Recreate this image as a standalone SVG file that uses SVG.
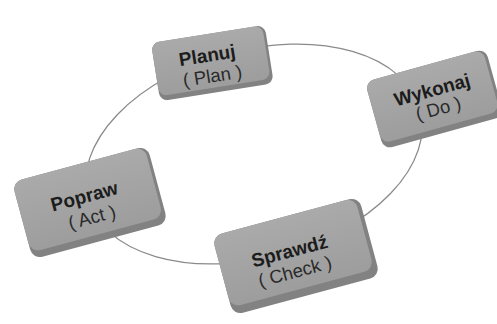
<svg xmlns="http://www.w3.org/2000/svg" width="497" height="324" viewBox="0 0 497 324">
<defs>
<linearGradient id="faceg" x1="0" y1="0" x2="0" y2="1">
<stop offset="0" stop-color="#aaaaaa"/>
<stop offset="1" stop-color="#9d9d9d"/>
</linearGradient>
</defs>
<style>
.body{fill:#828282;}
.face{fill:url(#faceg);}
.t1{font-family:"Liberation Sans",Arial,sans-serif;font-weight:700;font-size:19px;fill:#1c1c1c;text-anchor:middle;}
.t2{font-family:"Liberation Sans",Arial,sans-serif;font-size:18.5px;fill:#2a2a2a;text-anchor:middle;}
.ring{fill:none;stroke:#8a8a8a;stroke-width:1.3;}
</style>
<rect width="497" height="324" fill="#ffffff"/>
<g id="connectors">
<ellipse class="ring" cx="254" cy="154" rx="172" ry="104" transform="rotate(-15 254 154)"/>
</g>
<g id="planuj" transform="translate(212.4,63.1) rotate(-9)">
<rect class="body" x="-57.5" y="-29.5" width="115" height="59" rx="8"/>
<rect class="face" x="-57.5" y="-29.5" width="112.5" height="54" rx="8"/>
<text class="t1" x="-4" y="-2">Planuj</text>
<text class="t2" x="-2" y="19">( Plan )</text>
</g>
<g id="wykonaj" transform="translate(434.6,99) rotate(-15.5)">
<rect class="body" x="-62.5" y="-35" width="125" height="70" rx="9"/>
<rect class="face" x="-62.5" y="-35" width="122" height="64" rx="9"/>
<text class="t1" x="0" y="-3">Wykonaj</text>
<text class="t2" x="1" y="16.5">( Do )</text>
</g>
<g id="popraw" transform="translate(90,202.5) rotate(-15)">
<rect class="body" x="-70" y="-40" width="140" height="80" rx="10"/>
<rect class="face" x="-70" y="-40" width="137" height="73" rx="10"/>
<text class="t1" x="-4" y="-1">Popraw</text>
<text class="t2" x="-2" y="21">( Act )</text>
</g>
<g id="sprawdz" transform="translate(296,256) rotate(-15)">
<rect class="body" x="-76" y="-41" width="152" height="82" rx="10"/>
<rect class="face" x="-76" y="-41" width="148" height="74" rx="10"/>
<text class="t1" x="-5" y="0">Sprawdź</text>
<text class="t2" x="-5" y="21">( Check )</text>
</g>
</svg>
